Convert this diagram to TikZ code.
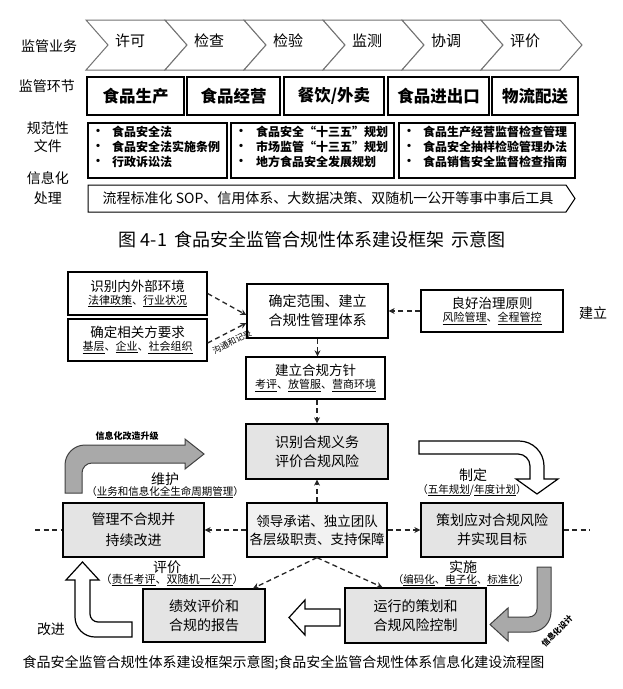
\documentclass[tikz,border=0pt]{standalone}
\usepackage{fontspec}
\setmainfont{Noto Sans CJK SC}
\usetikzlibrary{arrows.meta}
\newcommand\fsz[1]{\fontsize{#1pt}{#1pt}\selectfont}
\newcommand\fsl[2]{\fontsize{#1pt}{#2pt}\selectfont}
\definecolor{boxgray}{HTML}{E4E4E4}
\definecolor{boxlight}{HTML}{F2F2F2}
\definecolor{arrgray}{HTML}{A9A9A9}
\tikzset{
  bx/.style={draw=black, line width=1.3pt, inner sep=0pt, align=center, fill=white},
  gbx/.style={bx, fill=boxgray},
  chev/.style={draw=black!55, line width=1pt, fill=white},
  da/.style={draw=black!85, line width=1.3pt, dash pattern=on 5pt off 3.5pt, -{Stealth[length=6pt,width=6pt]}},
  dl/.style={draw=black!85, line width=1.3pt, dash pattern=on 5pt off 3.5pt},
  garrow/.style={fill=arrgray, draw=black!75, line width=1pt},
  warrow/.style={fill=white, draw=black, line width=1.2pt},
  lbl/.style={inner sep=0pt},
  bul/.style={inner sep=0pt, anchor=west, font=\bfseries\fsz{12}}
}
\begin{document}
\begin{tikzpicture}[x=1pt,y=-1pt]
\useasboundingbox (0,0) rectangle (623,689);
\fill[white] (0,0) rectangle (623,689);

% ---------- top framework ----------
\node[lbl, font=\fsz{14}] (l1) at (49,46) {监管业务};
\node[lbl, font=\fsz{14}] (l2) at (47,86) {监管环节};
\node[lbl, font=\fsz{14}] (l3) at (48,128) {规范性};
\node[lbl, font=\fsz{14}] (l4) at (48,146) {文件};
\node[lbl, font=\fsz{14}] (l5) at (48,178) {信息化};
\node[lbl, font=\fsz{14}] (l6) at (48,198) {处理};

\foreach \t [count=\i from 0] in {许可,检查,检验,监测,协调,评价} {
  \pgfmathsetmacro\xo{86+79*\i}
  \draw[chev] (\xo,20) -- ++(79,0) -- ++(22,25) -- ++(-22,25) -- ++(-79,0) -- ++(22,-25) -- cycle;
  \node[lbl, font=\fsz{15}] (c\i) at (\xo+44,41) {\t};
}

\node[bx, line width=1.2pt, minimum width=97pt, minimum height=38pt, font=\bfseries\fsz{16.5}] (s1) at (135.5,96) {食品生产};
\node[bx, line width=1.2pt, minimum width=93pt, minimum height=38pt, font=\bfseries\fsz{16.5}] (s2) at (233.5,96) {食品经营};
\node[bx, line width=1.2pt, minimum width=100pt, minimum height=38pt, font=\bfseries\fsz{16.5}] (s3) at (334,96) {餐饮/外卖};
\node[bx, line width=1.2pt, minimum width=101pt, minimum height=38pt, font=\bfseries\fsz{16.5}] (s4) at (438.5,96) {食品进出口};
\node[bx, line width=1.2pt, minimum width=86pt, minimum height=38pt, font=\bfseries\fsz{16.5}] (s5) at (535,96) {物流配送};

\node[bx, line width=1.2pt, minimum width=139pt, minimum height=55pt] (d1) at (157.5,150.5) {};
\node[bx, line width=1.2pt, minimum width=163pt, minimum height=55pt] (d2) at (312.5,150.5) {};
\node[bx, line width=1.2pt, minimum width=176pt, minimum height=55pt] (d3) at (487,150.5) {};

\node[bul] (b11) at (92,132) {•};
\node[bul] (b12) at (92,147) {•};
\node[bul] (b13) at (92,162) {•};
\node[bul] (t11) at (112,132) {食品安全法};
\node[bul] (t12) at (112,147) {食品安全法实施条例};
\node[bul] (t13) at (112,162) {行政诉讼法};
\node[bul] (b21) at (235,132) {•};
\node[bul] (b22) at (235,147) {•};
\node[bul] (b23) at (235,162) {•};
\node[bul] (t21) at (256,132) {食品安全“十三五”规划};
\node[bul] (t22) at (256,147) {市场监管“十三五”规划};
\node[bul] (t23) at (256,162) {地方食品安全发展规划};
\node[bul] (b31) at (403,132) {•};
\node[bul] (b32) at (403,147) {•};
\node[bul] (b33) at (403,162) {•};
\node[bul] (t31) at (423,132) {食品生产经营监督检查管理};
\node[bul] (t32) at (423,147) {食品安全抽样检验管理办法};
\node[bul] (t33) at (423,162) {食品销售安全监督检查指南};

\draw[line width=1pt, fill=white] (88,185) -- (566,185) -- (575,198.5) -- (566,212) -- (88,212) -- cycle;
\node[lbl, font=\fsz{14}] (info) at (328,198.5) {流程标准化 SOP、信用体系、大数据决策、双随机一公开等事中事后工具};

\node[lbl, font=\fsz{18}] (cap1) at (312,240) {图 4-1\, 食品安全监管合规性体系建设框架\, 示意图};

% ---------- flow chart ----------
\node[bx, minimum width=139pt, minimum height=43pt, font=\fsl{13.5}{13}] (n1) at (137.5,293.5) {识别内外部环境\\{\fsz{11}\underline{法律政策}、\underline{行业状况}}};
\node[bx, minimum width=139pt, minimum height=42pt, font=\fsl{13.5}{13}] (n2) at (137.5,340) {确定相关方要求\\{\fsz{11}\underline{基层}、\underline{企业}、\underline{社会组织}}};
\node[bx, minimum width=141pt, minimum height=54pt, font=\fsl{14}{19}] (n3) at (317.5,311) {确定范围、建立\\合规性管理体系};
\node[bx, minimum width=142pt, minimum height=42pt, font=\fsl{13.5}{13}] (n4) at (492,311) {良好治理原则\\{\fsz{11}\underline{风险管理}、\underline{全程管控}}};
\node[lbl, font=\fsz{14}] (jl) at (593,313) {建立};
\node[bx, minimum width=139pt, minimum height=42pt, font=\fsl{13.5}{13}] (n5) at (315.5,378) {建立合规方针\\{\fsz{11}\underline{考评}、\underline{放管服}、\underline{营商环境}}};
\node[gbx, minimum width=142pt, minimum height=55pt, font=\fsl{14}{19}] (n6) at (317,451.5) {识别合规义务\\评价合规风险};
\node[bx, fill=boxlight, minimum width=140pt, minimum height=54pt, font=\fsl{13.5}{18}] (n7) at (317,530) {领导承诺、独立团队\\各层级职责、支持保障};
\node[gbx, minimum width=141pt, minimum height=54pt, font=\fsl{14}{21}] (n8) at (133.5,530) {管理不合规并\\持续改进};
\node[gbx, minimum width=142pt, minimum height=54pt, font=\fsl{14}{19}] (n9) at (492,530) {策划应对合规风险\\并实现目标};
\node[gbx, minimum width=141pt, minimum height=55pt, font=\fsl{14}{19}] (n10) at (415.5,615.5) {运行的策划和\\合规风险控制};
\node[gbx, minimum width=122pt, minimum height=53pt, font=\fsl{14}{19}] (n11) at (204,615.5) {绩效评价和\\合规的报告};

\coordinate (lft) at (35,530);
\coordinate (rgt) at (590,530);

\draw[da] (n1.east) -- ([yshift=-4pt]n3.west);
\draw[da] ([yshift=-3pt]n2.east) -- ([yshift=-12pt]n3.west);
\draw[da] (n4.west) -- (n3.east);
\draw[da] (n3.south) -- (n3.south |- n5.north);
\draw[da] (n6.north |- n5.south) -- (n6.north);
\draw[da] (n7.north) -- (n6.south);
\draw[da] (n7.west) -- (n8.east);
\draw[da] (n7.east) -- (n9.west);
\draw[da] (n7.south) -- ([xshift=-33pt]n10.north);
\draw[da] (n7.south) -- ([xshift=49pt]n11.north);
\draw[dl] (lft) -- (n8.west);
\draw[dl] (n9.east) -- (rgt);

\node[lbl, font=\fsz{8.5}, rotate=27] (gt) at (232,342) {沟通和记录};

% curved arrows
\filldraw[garrow] (65,493) -- (65,465) .. controls (65,454) and (74,445) .. (85,445) -- (185,445) -- (185,439) -- (204,454) -- (185,469) -- (185,463) -- (92,463) .. controls (86.5,463) and (82,467.5) .. (82,473) -- (82,493) -- cycle;
\node[lbl, font=\bfseries\fsz{9}] (xg) at (127,436) {信息化改造升级};
\node[lbl, font=\fsz{14}] (wh) at (165,479) {维护};
\node[lbl, font=\fsz{10.5}] (whs) at (165,492) {（\underline{业务和信息化全生命周期管理}）};

\filldraw[warrow] (419,441) -- (519,441) .. controls (532.8,441) and (544,452.2) .. (544,466) -- (544,479) -- (558,479) -- (537,494) -- (516,479) -- (530,479) -- (530,466) .. controls (530,459.4) and (524.6,454) .. (518,454) -- (419,454) -- cycle;
\node[lbl, font=\fsz{14}] (zd) at (473,475) {制定};
\node[lbl, font=\fsz{10.5}] (zds) at (472,490) {（\underline{五年规划}/\underline{年度计划}）};

\filldraw[garrow] (537,567) -- (551,567) -- (551,612) .. controls (551,623) and (542,632) .. (531,632) -- (508,632) -- (508,641) -- (490,624.5) -- (508,608) -- (508,617) -- (529,617) .. controls (533.4,617) and (537,613.4) .. (537,609) -- cycle;
\node[lbl, font=\fsz{14}] (ss) at (463,567) {实施};
\node[lbl, font=\fsz{10.5}] (sss) at (461,580) {（\underline{编码化}、\underline{电子化}、\underline{标准化}）};
\node[lbl, font=\bfseries\fsz{8}, rotate=45] (xs) at (557,631) {信息化设计};

\filldraw[warrow] (340,609) -- (305,609) -- (305,600) -- (289,617.5) -- (305,635) -- (305,626) -- (340,626) -- cycle;

\filldraw[warrow] (132,637) -- (95,637) .. controls (84,637) and (75,628) .. (75,617) -- (75,580) -- (66,580) -- (82.5,562) -- (99,580) -- (90,580) -- (90,614) .. controls (90,618.4) and (93.6,622) .. (98,622) -- (132,622) -- cycle;
\node[lbl, font=\fsz{14}] (pj) at (167,567) {评价};
\node[lbl, font=\fsz{11}] (pjs) at (172,580) {（\underline{责任考评}、\underline{双随机一公开}）};
\node[lbl, font=\fsz{14}] (gj) at (51,629) {改进};

\node[lbl, font=\fsz{14}] (cap2) at (283.5,663) {食品安全监管合规性体系建设框架示意图;食品安全监管合规性体系信息化建设流程图};
\end{tikzpicture}
\end{document}
